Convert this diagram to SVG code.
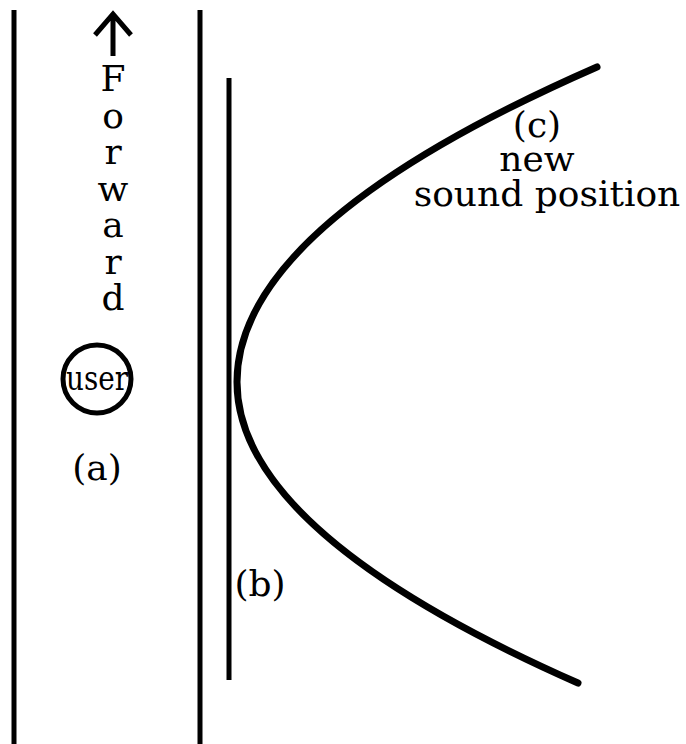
<svg xmlns="http://www.w3.org/2000/svg" width="686" height="744" viewBox="0 0 686 744">
<style>
.ln{stroke:#000;stroke-width:5;fill:none;stroke-linecap:butt}
.cv{stroke:#000;stroke-width:7;fill:none;stroke-linecap:round}
.t{font-family:"DejaVu Serif","Liberation Serif",serif;font-size:36px;fill:#000;text-anchor:middle}
</style>
<rect width="686" height="744" fill="#fff"/>
<g id="connectors">
<line class="ln" x1="14" y1="10" x2="14" y2="744"/>
<line class="ln" x1="200" y1="10" x2="200" y2="744"/>
<line class="ln" x1="229" y1="78" x2="229" y2="680" stroke-width="4"/>
<path class="cv" d="M597,67 Q237,224.5 237,382 Q237,532.5 578,683"/>
<path class="ln" d="M113,56 V15 M95,35 L113,14 L131,35" stroke-width="6"/>
</g>
<g id="forward">
<text class="t" x="113" y="91">F</text>
<text class="t" x="113" y="127.5">o</text>
<text class="t" x="113" y="164">r</text>
<text class="t" x="113" y="200.5">w</text>
<text class="t" x="113" y="237">a</text>
<text class="t" x="113" y="273.5">r</text>
<text class="t" x="113" y="310">d</text>
</g>
<g id="user">
<circle cx="97" cy="379" r="34" fill="none" stroke="#000" stroke-width="5"/>
<text class="t" x="97" y="390" style="font-size:33px" textLength="62" lengthAdjust="spacingAndGlyphs">user</text>
<text class="t" x="97" y="480">(a)</text>
</g>
<g id="b">
<text class="t" x="260" y="596">(b)</text>
</g>
<g id="c">
<text class="t" x="537" y="137">(c)</text>
<text class="t" x="537" y="171">new</text>
<text class="t" x="547" y="206">sound position</text>
</g>
</svg>
